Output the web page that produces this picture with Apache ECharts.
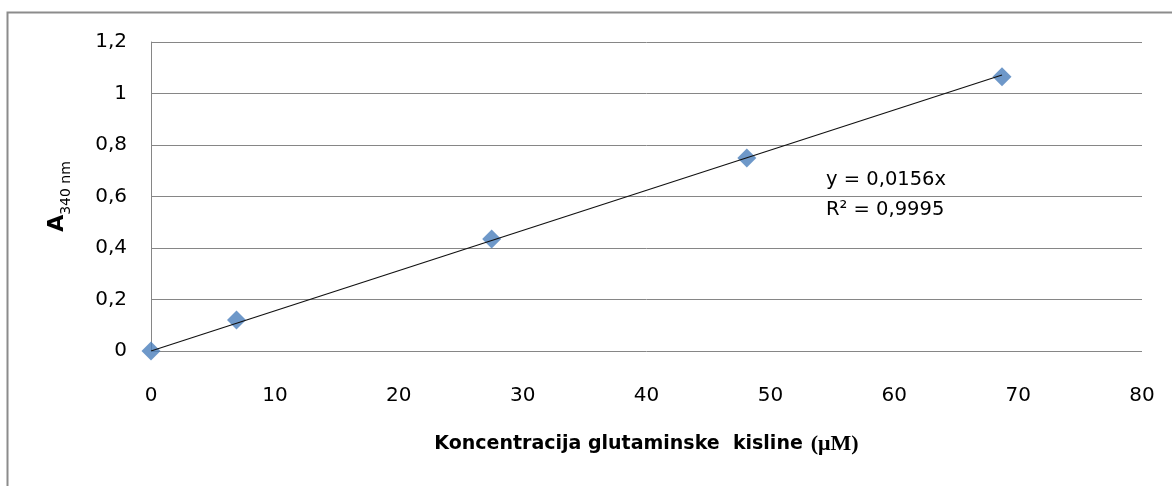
<!DOCTYPE html>
<html>
<head>
<meta charset="utf-8">
<script src="https://cdn.jsdelivr.net/npm/echarts@6/dist/echarts.min.js"></script>
<style>
html,body{margin:0;padding:0;background:#fff;}
#c{width:1172px;height:486px;}
</style>
</head>
<body>
<div id="c"></div>
<script>
const concentration = [0, 6.9, 27.5, 48.1, 68.7];
const absorbance = [0, 0.12, 0.435, 0.75, 1.065];
const trendSlope = 0.0156;
const trendRange = [0, 68.7];
const equationText = ['y = 0,0156x', 'R² = 0,9995'];
const xTitle = 'Koncentracija glutaminske  kisline';
const xUnit = '(μM)';

const trendData = trendRange.map(x => [x, trendSlope * x]);
const points = concentration.map((x, i) => [x, absorbance[i]]);

const chart = echarts.init(document.getElementById('c'), null, {renderer: 'canvas'});
const FONT = 'DejaVu Sans';
chart.setOption({
  animation: false,
  backgroundColor: '#fff',
  grid: {left: 151, top: 42, right: 30, bottom: 135, containLabel: false},
  xAxis: {
    type: 'value', min: 0, max: 80, interval: 10,
    axisLine: {show: false},
    axisTick: {show: false},
    splitLine: {show: false},
    axisLabel: {color: '#000', fontFamily: FONT, fontSize: 20, margin: 35},
    name: '{a|' + xTitle + '}{g|}{b|' + xUnit + '}',
    nameLocation: 'middle', nameGap: 82,
    nameTextStyle: {
      rich: {
        a: {fontFamily: FONT, fontWeight: 'bold', fontSize: 19, color: '#000'},
        g: {width: 8},
        b: {fontFamily: 'Liberation Serif', fontWeight: 'bold', fontSize: 22, color: '#000'}
      }
    }
  },
  yAxis: {
    type: 'value', min: 0, max: 1.2, interval: 0.2,
    axisLine: {show: true, lineStyle: {color: '#868686', width: 1}},
    axisTick: {show: false},
    splitLine: {show: true, lineStyle: {color: '#868686', width: 1}},
    axisLabel: {color: '#000', fontFamily: FONT, fontSize: 20, margin: 24,
      formatter: v => String(Math.round(v * 10) / 10).replace('.', ',')},
    name: '{a|A}{s|340 nm}',
    nameLocation: 'middle', nameGap: 83, nameRotate: 90,
    nameTextStyle: {
      rich: {
        a: {fontFamily: FONT, fontWeight: 'bold', fontSize: 22, color: '#000', verticalAlign: 'bottom'},
        s: {fontFamily: FONT, fontSize: 14, color: '#000', verticalAlign: 'bottom', padding: [0, 0, -5, 0]}
      }
    }
  },
  graphic: [
    {type: 'rect', shape: {x: 7.5, y: 12.5, width: 1200, height: 600},
     style: {fill: 'none', stroke: '#8c8c8c', lineWidth: 2}, z: -1},
    {type: 'text', left: 826, top: 165,
     style: {text: equationText.join('\n'), font: '19.5px "DejaVu Sans"', fill: '#000', lineHeight: 30}}
  ],
  series: [
    {
      type: 'line', data: trendData, symbol: 'none',
      lineStyle: {color: '#111', width: 1.2}, z: 3
    },
    {
      type: 'scatter', data: points, symbol: 'diamond', symbolSize: [19, 19],
      itemStyle: {color: '#4a7ebb'}, z: 2
    }
  ]
});
</script>
</body>
</html>
